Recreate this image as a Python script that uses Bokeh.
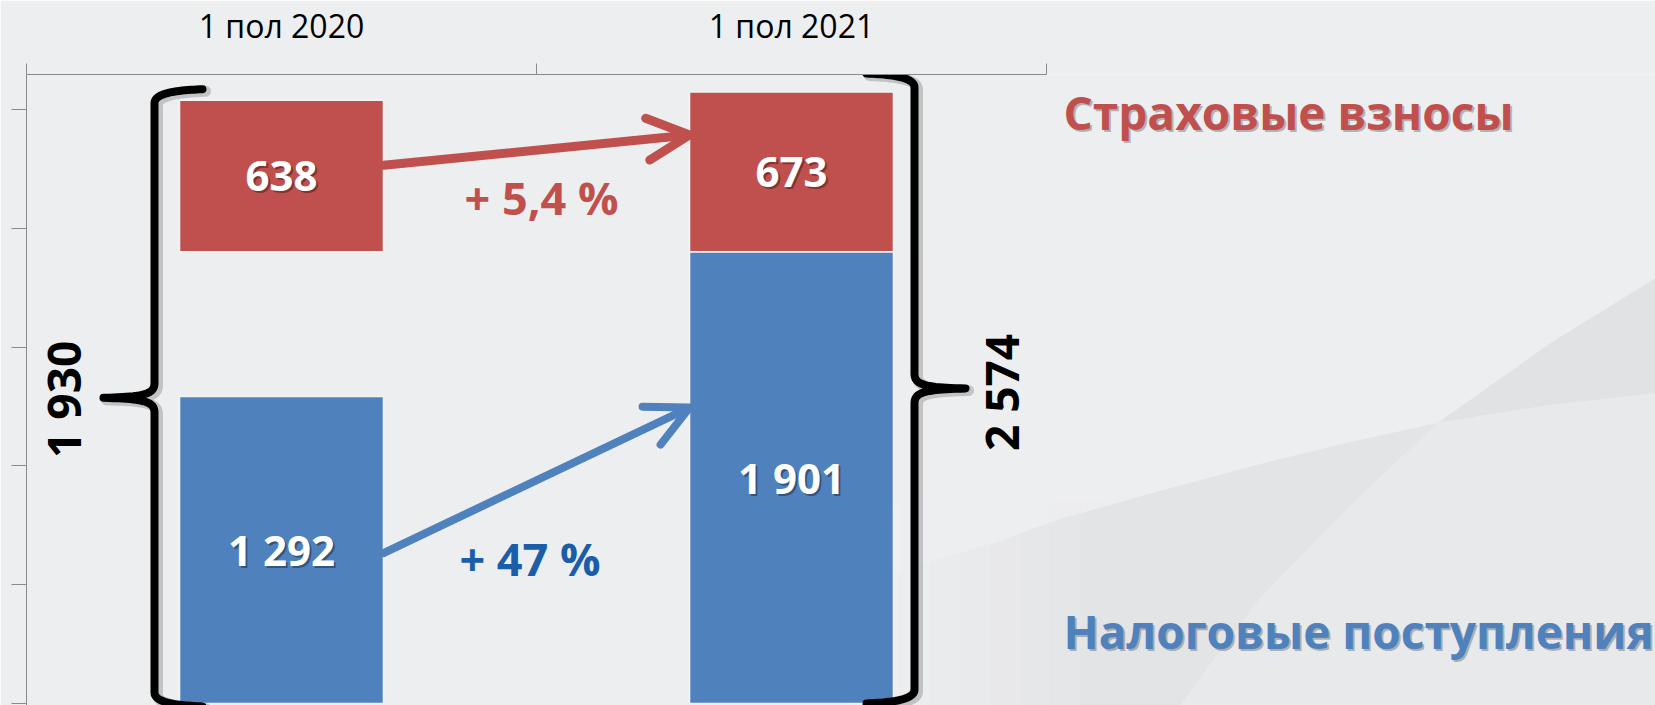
import numpy as np
from bokeh.plotting import figure
from bokeh.models import Range1d, FixedTicker, ColumnDataSource, Arrow, OpenHead, CustomLabelingPolicy
from bokeh.core.properties import value
from bokeh.embed import file_html
from bokeh.resources import INLINE

# ---------------- data ----------------
categories = ["1 пол 2020", "1 пол 2021"]
series_names = ["Налоговые поступления", "Страховые взносы"]
tax = [1292, 1901]            # Налоговые поступления
insurance = [638, 673]        # Страховые взносы
spacer = [609, 0]             # invisible offset that lifts the 2020 insurance bar
growth_labels = ["+ 47 %", "+ 5,4 %"]   # tax, insurance
total_labels = ["1 930", "2 574"]
y_ticks = [0, 500, 1000, 1500, 2000, 2500]
y_max = 2647

# ---------------- style / layout ----------------
BG = "#edeef0"
RED = "#c0504d"
BLUE = "#4f81bd"
DARK_BLUE = "#1a5da8"
AXIS = "#8a8a8a"
FONT = "Open Sans"

W, H = 1655, 705
LEFT, TOP = 26, 73         # frame offset inside figure
PXC = 510.0                # px per category
PXV = 0.238                # px per value unit
PAGE_X0 = LEFT
PAGE_Y0 = TOP + y_max * PXV

def px_x(xd): return PAGE_X0 + xd * PXC
def px_y(yd): return PAGE_Y0 - yd * PXV
def dx(px): return (px - PAGE_X0) / PXC
def dy(py): return (PAGE_Y0 - py) / PXV

n = len(categories)
xc = [i + 0.5 for i in range(n)]
BAR_W = 0.4

x_end = (W - LEFT) / PXC
y_start = y_max - (H - TOP) / PXV

p = figure(width=W, height=H, x_range=Range1d(0, x_end), y_range=Range1d(y_start, y_max),
           x_axis_location="above", output_backend="svg", toolbar_location=None,
           min_border=0, min_border_left=LEFT, min_border_top=TOP,
           background_fill_color=BG, border_fill_color=BG, outline_line_color=None)
p.grid.visible = False

# ---------------- background decoration ----------------
A_pts = [(880, 576), (1000, 540), (1060, 518), (1160, 490), (1260, 463), (1350, 441), (1437, 422), (1550, 404), (1660, 392)]
B_low = [(1165, 720), (1180, 705), (1220, 650), (1260, 597), (1350, 505), (1437, 422)]
B_high = [(1437, 422), (1550, 342), (1660, 274)]
iA = A_pts.index((1437, 422))
R1 = A_pts[:iA + 1] + B_low[::-1][1:] + [(880, 720)]
R2 = B_high + [(1660, 392)] + A_pts[iA:][::-1][1:]
R3 = A_pts[iA:] + [(1660, 720)] + B_low[:-1]
for poly, col in [(R1, "#e3e4e6"), (R2, "#e1e2e4"), (R3, "#e8e9eb")]:
    p.patch([dx(a) for a, b in poly], [dy(b) for a, b in poly], fill_color=col, line_color=None)
# soft fade of the left end of the lower swoosh
fade_l = list(range(870, 1110, 30))
fade_a = np.linspace(0.95, 0.1, len(fade_l))
p.quad(left=[dx(v) for v in fade_l], right=[dx(v + 30) for v in fade_l],
       bottom=[dy(720)] * len(fade_l), top=[dy(500)] * len(fade_l),
       fill_color=BG, fill_alpha=list(fade_a), line_color=None)

# ---------------- bars ----------------
src = ColumnDataSource(dict(x=xc, tax=tax, spacer=spacer, insurance=insurance))
p.vbar_stack(["tax", "spacer", "insurance"], x="x", width=BAR_W, source=src,
             fill_color=[BLUE, BG, RED], fill_alpha=[1, 0, 1],
             line_color="#f2f3f5", line_alpha=[1, 0, 1], line_width=1.6)

# ---------------- value labels ----------------
FS_VAL = 42
def fmt(v): return f"{v:,}".replace(",", " ")
lab_x, lab_y, lab_t = [], [], []
for i in range(n):
    lab_x += [xc[i], xc[i]]
    lab_y += [tax[i] / 2, tax[i] + spacer[i] + insurance[i] / 2]
    lab_t += [fmt(tax[i]), fmt(insurance[i])]
p.text(x=[v + 2 / PXC for v in lab_x], y=[v - 2 / PXV for v in lab_y], text=lab_t,
       text_font=value(FONT), text_font_style="bold", text_font_size=f"{FS_VAL}px",
       text_color="black", text_alpha=0.35, text_align="center", text_baseline="middle")
p.text(x=lab_x, y=lab_y, text=lab_t,
       text_font=value(FONT), text_font_style="bold", text_font_size=f"{FS_VAL}px",
       text_color="white", text_align="center", text_baseline="middle")

# ---------------- growth arrows ----------------
x_from = xc[0] + BAR_W / 2
x_to = xc[1] - BAR_W / 2
ins_bottom = [tax[i] + spacer[i] for i in range(n)]
red_y0 = ins_bottom[0] + 0.57 * insurance[0]
red_y1 = ins_bottom[1] + 0.73 * insurance[1]
blue_y0 = 0.49 * tax[0]
blue_y1 = 0.655 * tax[1]
for (y0, y1, col, lw) in [(red_y0, red_y1, RED, 9), (blue_y0, blue_y1, BLUE, 8)]:
    p.add_layout(Arrow(x_start=x_from, y_start=y0, x_end=x_to, y_end=y1,
                       line_color=col, line_width=lw, line_cap="round",
                       end=OpenHead(size=42, line_color=col, line_width=lw,
                                    line_cap="round", line_join="round")))

FS_PCT = 45
mid_x = (xc[0] + xc[1]) / 2
red_mid_py = (px_y(red_y0) + px_y(red_y1)) / 2
blue_mid_py = (px_y(blue_y0) + px_y(blue_y1)) / 2
p.text(x=[mid_x + 5 / PXC], y=[dy(red_mid_py + 47)], text=[growth_labels[1]],
       text_font=value(FONT), text_font_style="bold", text_font_size=f"{FS_PCT}px",
       text_color=RED, text_align="center", text_baseline="middle")
p.text(x=[mid_x - 6.5 / PXC], y=[dy(blue_mid_py + 78)], text=[growth_labels[0]],
       text_font=value(FONT), text_font_style="bold", text_font_size=f"{FS_PCT}px",
       text_color=DARK_BLUE, text_align="center", text_baseline="middle")

# ---------------- braces ----------------
def cubic(p0, p1, p2, p3, k=24):
    t = np.linspace(0, 1, k)[:, None]
    p0, p1, p2, p3 = (np.asarray(q, float) for q in (p0, p1, p2, p3))
    return (1 - t) ** 3 * p0 + 3 * (1 - t) ** 2 * t * p1 + 3 * (1 - t) * t ** 2 * p2 + t ** 3 * p3

def brace(xl, yt, yb, s, hook=48, tip=51):
    ym = (yt + yb) / 2
    xe, xt = xl + s * hook, xl - s * tip
    segs = [
        cubic([xe, yt], [xe - s * 22, yt + 1], [xl, yt + 3], [xl, yt + 14]),
        np.array([[xl, ym - 15]]),
        cubic([xl, ym - 15], [xl, ym - 4], [xl - s * 9, ym - 1], [xt, ym]),
        cubic([xt, ym], [xl - s * 9, ym + 1], [xl, ym + 4], [xl, ym + 15]),
        np.array([[xl, yb - 14]]),
        cubic([xl, yb - 14], [xl, yb - 3], [xe - s * 22, yb - 1], [xe, yb]),
    ]
    pts = np.vstack(segs)
    return pts, ym, xt

left_pts, left_ym, left_tip = brace(px_x(xc[0] - BAR_W / 2) - 25,
                                    px_y(ins_bottom[0] + insurance[0]) - 11, px_y(0) + 3, +1)
right_pts, right_ym, right_tip = brace(px_x(xc[1] + BAR_W / 2) + 21,
                                       px_y(y_max) - 1, px_y(0), -1)
for pts in (left_pts, right_pts):
    p.line([dx(a + 3) for a in pts[:, 0]], [dy(b + 2) for b in pts[:, 1]],
           line_color="black", line_alpha=0.18, line_width=11, line_join="round", line_cap="round")
    p.line([dx(a) for a in pts[:, 0]], [dy(b) for b in pts[:, 1]],
           line_color="black", line_width=8, line_join="round", line_cap="round")

FS_TOT = 46
p.text(x=[dx(left_tip - 41), dx(right_tip + 35)], y=[dy(left_ym + 1.5), dy(right_ym + 4)],
       text=total_labels, angle=np.pi / 2,
       text_font=value(FONT), text_font_style="bold", text_font_size=f"{FS_TOT}px",
       text_color="black", text_align="center", text_baseline="middle")

# ---------------- series names ----------------
FS_SER = 46
ser_x = n + 17 / PXC
ser_y = [dy(630), dy(111)]
ser_col = [BLUE, RED]
p.text(x=[ser_x + 2 / PXC] * 2, y=[v - 2 / PXV for v in ser_y], text=series_names,
       text_font=value(FONT), text_font_style="bold", text_font_size=f"{FS_SER}px",
       text_color="black", text_alpha=0.25, text_align="left", text_baseline="middle")
p.text(x=[ser_x] * 2, y=ser_y, text=series_names, text_color=ser_col,
       text_font=value(FONT), text_font_style="bold", text_font_size=f"{FS_SER}px",
       text_align="left", text_baseline="middle")

# ---------------- axes ----------------
xa = p.xaxis[0]
xa.ticker = FixedTicker(ticks=xc, minor_ticks=list(range(n + 1)))
xa.major_label_overrides = {c: cat for c, cat in zip(xc, categories)}
xa.bounds = (0, n)
xa.axis_line_color = AXIS
xa.major_tick_out = 0
xa.major_tick_in = 0
xa.minor_tick_out = 11
xa.minor_tick_in = 0
xa.minor_tick_line_color = AXIS
xa.major_label_text_font = FONT
xa.major_label_text_font_size = "32px"
xa.major_label_text_color = "black"
xa.major_label_standoff = 17

ya = p.yaxis[0]
ya.ticker = FixedTicker(ticks=y_ticks, minor_ticks=[])
ya.axis_line_color = AXIS
ya.major_tick_line_color = AXIS
ya.major_tick_out = 15
ya.major_tick_in = 0
ya.minor_tick_out = 0
ya.minor_tick_in = 0
ya.major_label_text_font_size = "1px"
ya.major_label_standoff = 0
ya.major_label_policy = CustomLabelingPolicy(code="return []")

open("out.html", "w").write(file_html(p, INLINE, title="chart"))
